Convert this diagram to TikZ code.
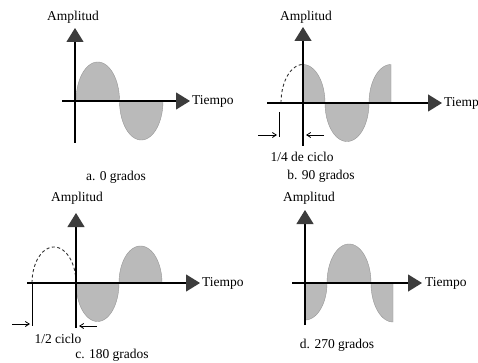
\documentclass[tikz,border=0pt]{standalone}
\usepackage{fontspec}
\setmainfont{Liberation Serif}
\usetikzlibrary{arrows.meta}
\definecolor{lobegray}{RGB}{186,186,186}
\definecolor{lobeedge}{RGB}{150,150,150}
\definecolor{headgray}{RGB}{60,60,60}
\tikzset{
  axisline/.style={line width=1.2pt, draw=black, -{Triangle[length=14pt,width=17pt,fill=headgray,color=headgray]}},
  lobefill/.style={fill=lobegray, draw=lobeedge, line width=0.4pt},
  dashwave/.style={draw=black!80, line width=0.9pt, dash pattern=on 3pt off 2.5pt},
  tickline/.style={line width=1pt, draw=black},
  markarrow/.style={line width=0.8pt, -{Straight Barb[length=4pt,width=5pt]}},
  lbl/.style={font=\fontsize{13.5}{16}\selectfont, inner sep=0pt},
}
% #1 x0, #2 y0, #3 width, #4 amplitude (positive = up), #5 t1, #6 t2
\newcommand\wavelobe[6]{%
  \filldraw[lobefill] plot[domain=#5:#6,samples=40] ({#1+#3/2-#3/2*cos(\x)},{#2-#4*sin(\x)})
    -- ({#1+#3/2-#3/2*cos(#6)},{#2}) -- ({#1+#3/2-#3/2*cos(#5)},{#2}) -- cycle;}
\newcommand\dashlobe[6]{%
  \draw[dashwave] plot[domain=#5:#6,samples=40] ({#1+#3/2-#3/2*cos(\x)},{#2-#4*sin(\x)});}
\begin{document}
\begin{tikzpicture}[x=1pt,y=-1pt]
\useasboundingbox (0,0) rectangle (478,363);
\fill[white] (0,0) rectangle (478,363);
\clip (0,0) rectangle (478,363);

% ---------- a. 0 grados ----------
\wavelobe{76}{101}{43.5}{39}{0}{180}
\wavelobe{119.5}{101}{43.5}{-39}{0}{180}
\coordinate (av0) at (75,143); \coordinate (av1) at (75,28);
\coordinate (ah0) at (62,101); \coordinate (ah1) at (190,101);
\draw[axisline] (av0) -- (av1);
\draw[axisline] (ah0) -- (ah1);
\node[lbl] (aamp) at (73,17) {Amplitud};
\node[lbl, anchor=west] (atime) at (192,101) {Tiempo};
\node[lbl] (acap) at (116,177) {a. 0 grados};

% ---------- b. 90 grados ----------
\dashlobe{281}{103}{44}{38.5}{0}{90}
\wavelobe{281}{103}{44}{38.5}{90}{180}
\wavelobe{325}{103}{44}{-38.5}{0}{180}
\wavelobe{369}{103}{44}{38.5}{0}{90}
\coordinate (bv0) at (303,146); \coordinate (bv1) at (303,27);
\coordinate (bh0) at (267,103); \coordinate (bh1) at (442,103);
\draw[axisline] (bv0) -- (bv1);
\draw[axisline] (bh0) -- (bh1);
\coordinate (bt0) at (279,112); \coordinate (bt1) at (279,137);
\draw[tickline] (bt0) -- (bt1);
\coordinate (bra) at (258,135); \coordinate (brb) at (277,135);
\coordinate (bla) at (324,135); \coordinate (blb) at (306,135);
\draw[markarrow] (bra) -- (brb);
\draw[markarrow] (bla) -- (blb);
\node[lbl] (bamp) at (306,17) {Amplitud};
\node[lbl, anchor=west] (btime) at (444,103) {Tiempo};
\node[lbl] (bquart) at (302,157) {1/4 de ciclo};
\node[lbl] (bcap) at (321,176) {b. 90 grados};

% ---------- c. 180 grados ----------
\dashlobe{32}{283}{44}{36}{0}{180}
\wavelobe{76}{283}{43}{-38.5}{0}{180}
\wavelobe{119}{283}{43}{37}{0}{180}
\coordinate (cv0) at (76,328); \coordinate (cv1) at (76,213);
\coordinate (ch0) at (27,283); \coordinate (ch1) at (200,283);
\draw[axisline] (cv0) -- (cv1);
\draw[axisline] (ch0) -- (ch1);
\coordinate (ct0) at (32,283); \coordinate (ct1) at (32,326);
\draw[tickline] (ct0) -- (ct1);
\coordinate (cra) at (12,324); \coordinate (crb) at (30,324);
\coordinate (cla) at (97,326); \coordinate (clb) at (79,326);
\draw[markarrow] (cra) -- (crb);
\draw[markarrow] (cla) -- (clb);
\node[lbl] (camp) at (77,198) {Amplitud};
\node[lbl, anchor=west] (ctime) at (202,283) {Tiempo};
\node[lbl] (chalf) at (58,339) {1/2 ciclo};
\node[lbl] (ccap) at (112,355) {c. 180 grados};

% ---------- d. 270 grados ----------
\wavelobe{283}{283}{44}{-37}{90}{180}
\wavelobe{327}{283}{44}{39}{0}{180}
\wavelobe{371}{283}{44}{-39}{0}{90}
\coordinate (dv0) at (305,325); \coordinate (dv1) at (305,210);
\coordinate (dh0) at (292,283); \coordinate (dh1) at (422,283);
\draw[axisline] (dv0) -- (dv1);
\draw[axisline] (dh0) -- (dh1);
\node[lbl] (damp) at (309,198) {Amplitud};
\node[lbl, anchor=west] (dtime) at (425,283) {Tiempo};
\node[lbl] (dcap) at (337,345) {d. 270 grados};
\end{tikzpicture}
\end{document}
